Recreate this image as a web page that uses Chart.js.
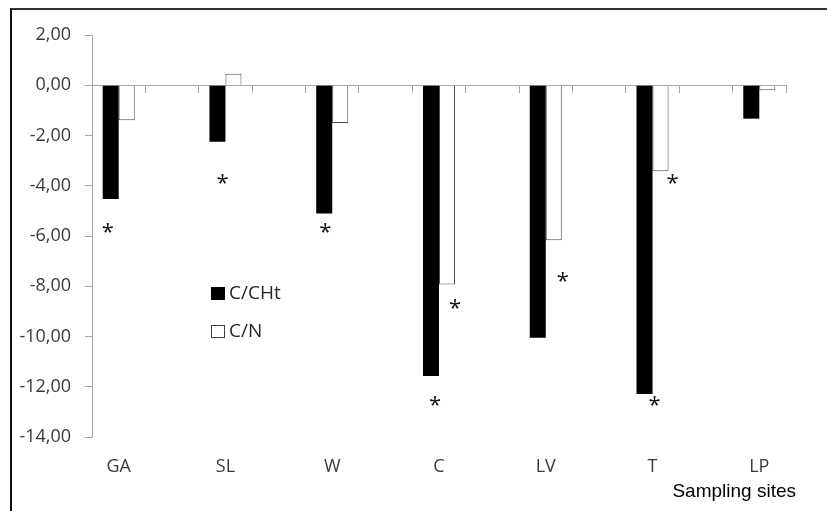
<!DOCTYPE html>
<html>
<head>
<meta charset="utf-8">
<script src="https://cdn.jsdelivr.net/npm/chart.js@4.4.1/dist/chart.umd.min.js"></script>
<style>
  html, body { margin: 0; padding: 0; background: #fff; overflow: hidden; }
  #wrap { position: relative; width: 827px; height: 511px; }
  #frame { position: absolute; left: 10px; top: 8px; width: 900px; height: 600px;
           border-left: 2px solid #111; border-top: 2px solid #333; pointer-events: none; }
  canvas { position: absolute; left: 0; top: 0; }
</style>
</head>
<body>
<div id="wrap">
  <canvas id="c" width="827" height="511"></canvas>
  <div id="frame"></div>
</div>
<script>
// ---- data ----
const sites = ['GA', 'SL', 'W', 'C', 'LV', 'T', 'LP'];
const seriesNames = ['C/CHt', 'C/N'];
const cchtValues = [-4.53, -2.25, -5.10, -11.57, -10.05, -12.29, -1.33];
const cnValues = [-1.39, 0.46, -1.50, -7.93, -6.17, -3.42, -0.20];
const yTickMin = -14;
const yTickMax = 2;
const yTickStep = 2;
const xAxisTitle = 'Sampling sites';
// significance asterisks: site, series index, level (axis units)
const asteriskSites = ['GA', 'SL', 'W', 'C', 'C', 'LV', 'T', 'T'];
const asteriskSeries = [0, 0, 0, 0, 1, 1, 0, 1];
const asteriskLevels = [-5.65, -3.70, -5.65, -12.53, -8.67, -7.60, -12.53, -3.70];

// ---- styling (not data) ----
const asteriskNudge = [-3, 5, 1, 4, 8, 9, 10, 12];
const tickFont = { family: 'Open Sans', size: 18 };
const axisGray = '#a6a6a6';
const textGray = '#3a3a3a';

// interleave blank categories (the original sheet has empty columns between sites)
const labels = [];
const cchtData = [];
const cnData = [];
sites.forEach((s, i) => {
  labels.push(s); cchtData.push(cchtValues[i]); cnData.push(cnValues[i]);
  if (i < sites.length - 1) { labels.push(''); cchtData.push(null); cnData.push(null); }
});

const overlay = {
  id: 'overlay',
  afterDatasetsDraw(chart) {
    const ctx = chart.ctx;
    const area = chart.chartArea;
    const y = chart.scales.y;
    ctx.save();
    // asterisks
    ctx.fillStyle = '#111';
    ctx.font = '22px "Open Sans"';
    ctx.textAlign = 'center';
    ctx.textBaseline = 'alphabetic';
    asteriskSites.forEach((s, k) => {
      const idx = labels.indexOf(s);
      const bar = chart.getDatasetMeta(asteriskSeries[k]).data[idx];
      const px = bar.x + asteriskNudge[k];
      const py = y.getPixelForValue(asteriskLevels[k]);
      ctx.fillText('*', px, py + 12);
    });
    // legend inside plot area
    const lx = area.left + 119;
    const ly = [area.top + 252, area.top + 290];
    const fills = ['#000000', '#ffffff'];
    ctx.font = '19px "Open Sans"';
    ctx.textAlign = 'left';
    ctx.textBaseline = 'middle';
    seriesNames.forEach((n, i) => {
      ctx.fillStyle = fills[i];
      ctx.fillRect(lx, ly[i], 14, 13);
      if (i === 1) {
        ctx.strokeStyle = '#404040';
        ctx.lineWidth = 1;
        ctx.strokeRect(lx + 0.5, ly[i] + 0.5, 13, 12);
      }
      ctx.fillStyle = '#262626';
      ctx.fillText(n, lx + 18, ly[i] + 7);
    });
    // axis title
    ctx.font = '19px "Liberation Sans"';
    ctx.fillStyle = '#000';
    ctx.textAlign = 'right';
    ctx.textBaseline = 'middle';
    ctx.fillText(xAxisTitle, area.right + 10, area.bottom + 55);
    ctx.restore();
  }
};

new Chart(document.getElementById('c'), {
  type: 'bar',
  data: {
    labels: labels,
    datasets: [
      { label: seriesNames[0], data: cchtData, backgroundColor: '#000000', borderWidth: 0,
        categoryPercentage: 0.6, barPercentage: 1.0, xAxisID: 'x' },
      { label: seriesNames[1], data: cnData, backgroundColor: '#ffffff', borderColor: '#4d4d4d',
        borderWidth: 1, categoryPercentage: 0.6, barPercentage: 1.0, xAxisID: 'x' }
    ]
  },
  options: {
    responsive: false,
    animation: false,
    devicePixelRatio: 1,
    layout: { padding: { top: 35, right: 41, left: 0, bottom: 0 } },
    plugins: { legend: { display: false }, tooltip: { enabled: false } },
    scales: {
      x: {
        type: 'category',
        position: 'bottom',
        grid: { display: false, drawTicks: false },
        border: { display: false },
        ticks: { font: tickFont, color: textGray, padding: 19, autoSkip: false, maxRotation: 0 },
        afterFit(scale) { scale.height = 74; }
      },
      xZero: {
        type: 'category',
        labels: labels,
        position: { y: 0 },
        offset: true,
        grid: { display: true, drawOnChartArea: false, offset: true, tickLength: 7, color: axisGray, lineWidth: 1 },
        border: { display: true, color: axisGray, width: 1 },
        ticks: { display: false }
      },
      y: {
        min: yTickMin,
        max: yTickMax,
        grid: { display: true, drawOnChartArea: false, tickLength: 7, color: axisGray },
        border: { display: true, color: axisGray },
        ticks: {
          stepSize: yTickStep, font: tickFont, color: textGray, padding: 14,
          callback: (v) => v.toFixed(2).replace('.', ',')
        },
        afterFit(scale) { scale.width = 92; }
      }
    }
  },
  plugins: [overlay]
});
</script>
</body>
</html>
